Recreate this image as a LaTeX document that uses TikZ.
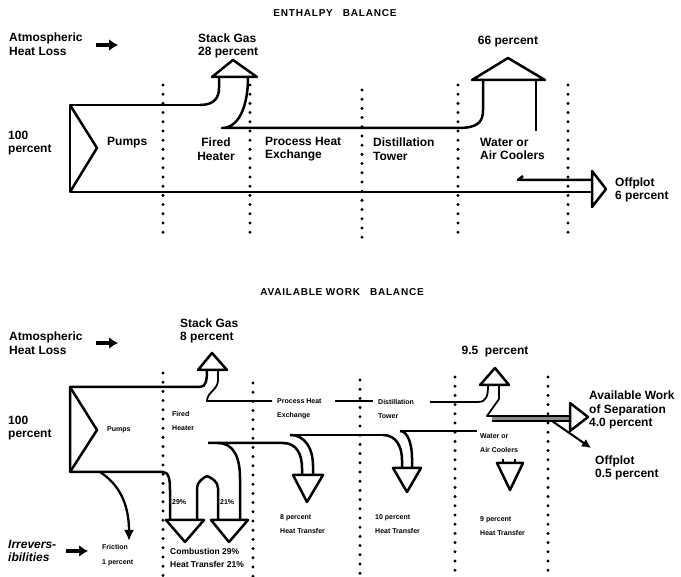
\documentclass[tikz,border=0pt]{standalone}
\usepackage{fontspec}
\setmainfont{Liberation Sans}
\usetikzlibrary{arrows.meta}
\tikzset{
 lbl/.style={font=\fontsize{12}{13.5}\selectfont\bfseries, align=left, inner sep=0pt, anchor=west},
 sml/.style={font=\fontsize{7}{14.5}\selectfont\bfseries, align=left, inner sep=0pt, anchor=west},
 mid/.style={font=\fontsize{8.5}{13}\selectfont\bfseries, align=left, inner sep=0pt, anchor=west},
 ttl/.style={font=\fontsize{10}{12}\selectfont\bfseries\addfontfeatures{LetterSpace=8}, inner sep=0pt},
 pipe/.style={line width=2.5pt, line join=round},
 thin/.style={line width=1.8pt, line join=round},
 dots/.style={line width=3.3pt, line cap=round, dash pattern=on 0pt off 9.2pt},
 fat/.style={line width=3.4pt, -{Latex[length=9pt,width=12pt]}},
}
\begin{document}
\begin{tikzpicture}[x=1pt,y=-1pt]
\fill[white] (0,0) rectangle (681,577);
\useasboundingbox (0,0) rectangle (681,577);

%%%%%%%%%%%%%%%% ENTHALPY BALANCE
\node[ttl] (t1) at (335,13) {ENTHALPY\quad BALANCE};
\node[lbl] (a1) at (9,44) {Atmospheric\\Heat Loss};
\coordinate (a1s) at (96,45); \coordinate (a1e) at (118,45);
\draw[fat] (a1s) -- (a1e);
\node[lbl] (sg1) at (198,46) {Stack Gas\\28 percent};
\node[lbl, anchor=center] (p66) at (508,42) {66 percent};
\node[lbl] (h1) at (8,143) {100\\percent};
\node[lbl] (pu1) at (107,143) {Pumps};
\node[lbl, align=center, anchor=center] (fh1) at (216,149) {Fired\\Heater};
\node[lbl] (pe1) at (265,149) {Process Heat\\Exchange};
\node[lbl] (dt1) at (373,149) {Distillation\\Tower};
\node[lbl] (wc1) at (480,149) {Water or\\Air Coolers};
\node[lbl] (of1) at (615,190) {Offplot\\6 percent};

% dotted dividers
\foreach \x/\a/\b in {163/85/237, 250/85/237, 362/90/240, 458/85/237, 568/85/237}
  \draw[dots] (\x,\a) -- (\x,\b);

% main band
\draw[pipe] (200,105) -- (70,105) -- (70,192) -- (592,192);
\draw[pipe] (70,105) -- (97,148) -- (70,192);
% stack gas
\draw[pipe] (200,105) .. controls (214,105) and (219,98) .. (219,88) -- (219,77);
\draw[pipe] (212,77) -- (233,60) -- (257,77) -- cycle;
\draw[pipe] (248,77) .. controls (248,108) and (238,128) .. (222,128) -- (458,128)
   .. controls (478,128) and (483,122) .. (483,110) -- (483,80);
% 66 percent
\draw[pipe] (472,80) -- (508,58) -- (545,80) -- cycle;
\draw[pipe] (536,80) -- (536,131);
% offplot
\draw[pipe] (523,176) -- (518,180) -- (592,180);
\draw[pipe] (592,171) -- (606,189) -- (592,207) -- cycle;

%%%%%%%%%%%%%%%% AVAILABLE WORK BALANCE
\node[ttl] (t2) at (342,292) {AVAILABLE WORK\quad BALANCE};
\node[lbl] (a2) at (9,343) {Atmospheric\\Heat Loss};
\coordinate (a2s) at (96,343); \coordinate (a2e) at (118,343);
\draw[fat] (a2s) -- (a2e);
\node[lbl] (sg2) at (180,331) {Stack Gas\\8 percent};
\node[lbl, anchor=center] (p95) at (495,352) {9.5\; percent};
\node[lbl] (h2) at (8,428) {100\\percent};
\node[sml] (pu2) at (107,430) {Pumps};
\node[sml] (fh2) at (172,421) {Fired\\Heater};
\node[sml] (pe2) at (277,409) {Process Heat\\Exchange};
\node[sml] (dt2) at (378,409) {Distillation\\Tower};
\node[sml] (wc2) at (480,443) {Water or\\Air Coolers};
\node[lbl] (aw) at (589,410) {Available Work\\of Separation\\4.0 percent};
\node[lbl] (of2) at (595,468) {Offplot\\0.5 percent};
\node[sml] (c29) at (172,502) {29\%};
\node[sml] (c21) at (220,502) {21\%};
\node[mid] (cmb) at (170,558) {Combustion 29\%\\Heat Transfer 21\%};
\node[sml] (ht8) at (280,524) {8 percent\\Heat Transfer};
\node[sml] (ht10) at (375,524) {10 percent\\Heat Transfer};
\node[sml] (ht9) at (480,526) {9 percent\\Heat Transfer};
\node[lbl, font=\fontsize{12}{13.5}\selectfont\bfseries\itshape] (irr) at (8,551) {Irrevers-\\ibilities};
\coordinate (irs) at (66,551); \coordinate (ire) at (88,551);
\draw[fat] (irs) -- (ire);
\node[sml] (fr) at (102,555) {Friction\\1 percent};

% dotted dividers
\foreach \x/\a in {163/373, 253/383, 360/380, 455/377, 548/377}
  \draw[dots] (\x,\a) -- (\x,577);

% main band
\draw[pipe] (200,387) -- (70,387) -- (70,472) -- (163,472)
   .. controls (169,472) and (170,480) .. (170,490) -- (170,520);
\draw[pipe] (70,387) -- (97,430) -- (70,472);
% stack gas
\draw[pipe] (200,387) .. controls (206,387) and (207,380) .. (207,370);
\draw[pipe] (198,370) -- (212,353) -- (227,370) -- cycle;
\draw[thin] (218,370) -- (218,380) .. controls (218,390) and (207,392) .. (207,401) -- (272,401);
\draw[thin] (335,401) -- (373,401);
\draw[thin] (430,402) -- (478,402) .. controls (487,402) and (488,395) .. (488,385);
% 9.5 percent
\draw[pipe] (480,385) -- (495,368) -- (509,385) -- cycle;
\draw[thin] (499,385) -- (499,399) -- (487,416) -- (570,416);
\draw[thin] (492,421) -- (570,421);
\fill[black!45] (492,417) rectangle (570,420);
\draw[pipe] (570,403) -- (588,417) -- (570,431) -- cycle;
\coordinate (o5s) at (552,421); \coordinate (o5e) at (591,448);
\draw[line width=2pt, -{Latex[length=9pt,width=9pt]}] (o5s) -- (o5e);
% friction
\coordinate (frs) at (100,472); \coordinate (fre) at (129,541);
\draw[line width=2.3pt, -{Latex[length=11pt,width=10pt]}] (frs) .. controls (120,485) and (129,505) .. (fre);
% fired heater: combustion and heat transfer
\draw[pipe] (197,520) -- (197,488) .. controls (197,482) and (203,478) .. (207,476)
   .. controls (212,478) and (218,482) .. (218,488) -- (218,520);
\draw[pipe] (166,520) -- (185,542) -- (204,520) -- cycle;
\draw[pipe] (211,520) -- (229,542) -- (248,520) -- cycle;
\draw[pipe] (240,520) -- (240,478) .. controls (240,458) and (234,443) .. (218,443);
\draw[pipe] (208,443) -- (283,443) .. controls (297,443) and (302,455) .. (302,468) -- (302,475);
% 8 percent
\draw[pipe] (290,435) .. controls (306,435) and (313,450) .. (313,465) -- (313,475);
\draw[thin] (290,435) -- (383,435);
\draw[pipe] (383,435) .. controls (397,435) and (402,448) .. (402,460) -- (402,468);
\draw[pipe] (293,475) -- (307,502) -- (323,475) -- cycle;
% 10 percent
\draw[pipe] (400,431) .. controls (408,431) and (412,445) .. (412,458) -- (412,468);
\draw[thin] (400,431) -- (477,431);
\draw[pipe] (393,468) -- (407,492) -- (421,468) -- cycle;
% 9 percent
\draw[pipe] (497,463) -- (510,490) -- (523,463) -- cycle;
\draw[thin] (503,463) -- (503,459);
\draw[thin] (515,463) -- (515,459);
\end{tikzpicture}
\end{document}
